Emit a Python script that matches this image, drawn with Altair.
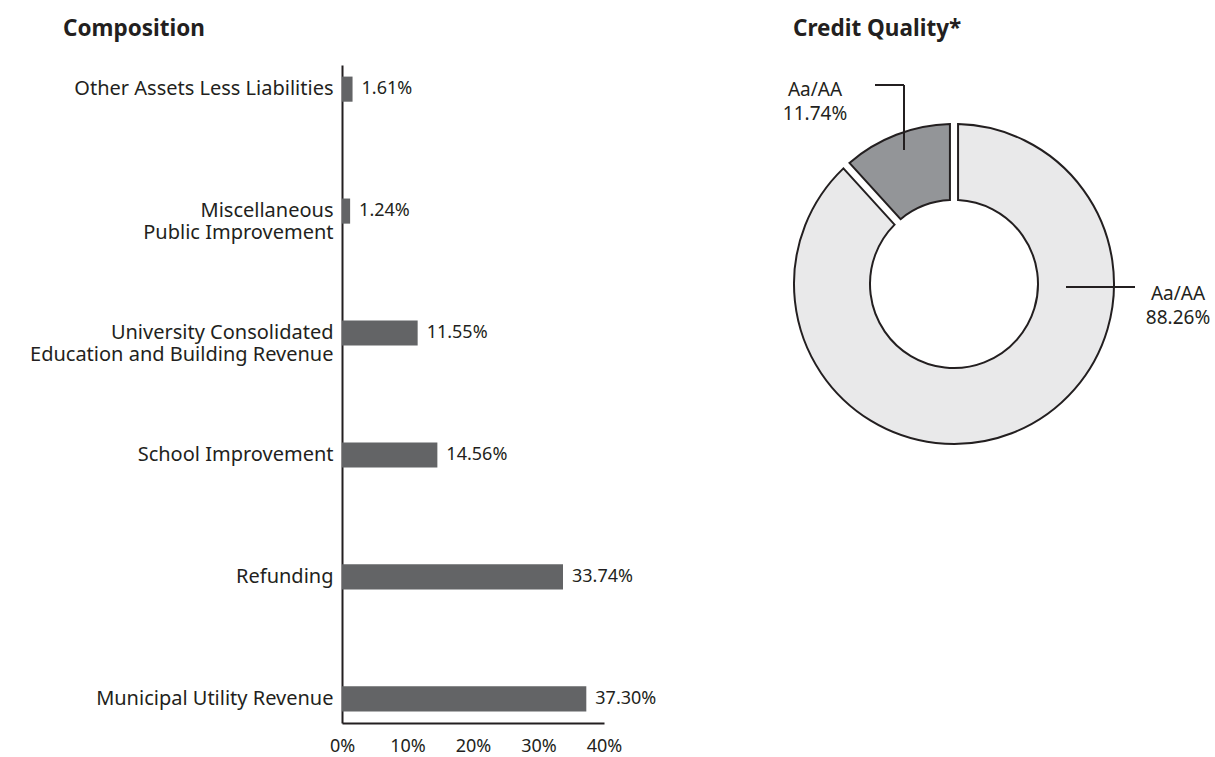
import altair as alt
import pandas as pd

# ---- data ----
categories = [
    "Other Assets Less Liabilities",
    "Miscellaneous|Public Improvement",
    "University Consolidated|Education and Building Revenue",
    "School Improvement",
    "Refunding",
    "Municipal Utility Revenue",
]
values = [1.61, 1.24, 11.55, 14.56, 33.74, 37.30]
x_ticks = [0, 10, 20, 30, 40]

quality_labels = ["Aa/AA", "Aa/AA"]
quality_values = [88.26, 11.74]
quality_colors = ["#e9e9ea", "#939598"]

FONT = "Noto Sans"
INK = "#231f20"

bars_df = pd.DataFrame({"category": categories, "value": values})
donut_df = pd.DataFrame({
    "label": quality_labels,
    "value": quality_values,
    "color": quality_colors,
    "order": list(range(len(quality_values))),
})

base = alt.Chart(bars_df)

bars = base.mark_bar(color="#636466").encode(
    x=alt.X("value:Q",
            scale=alt.Scale(domain=[0, 40], nice=False),
            axis=alt.Axis(values=x_ticks, labelExpr="datum.value + '%'", title=None,
                          grid=False, ticks=False, labelPadding=14, labelFontSize=18,
                          labelFlush=False, labelOverlap=False,
                          labelColor=INK, labelFont=FONT, domainColor=INK, domainWidth=2)),
    y=alt.Y("category:N", sort=categories,
            scale=alt.Scale(paddingInner=0.794, paddingOuter=0.095),
            axis=alt.Axis(title=None, ticks=False, labelPadding=9, labelFontSize=20,
                          labelColor=INK, labelFont=FONT, labelLimit=400,
                          labelExpr="split(datum.label, '|')", labelLineHeight=22,
                          domainColor=INK, domainWidth=2)),
)

bar_text = base.transform_calculate(
    txt="format(datum.value, '.2f') + '%'"
).mark_text(align="left", baseline="middle", dx=9, fontSize=18, font=FONT, color=INK).encode(
    x="value:Q",
    y=alt.Y("category:N", sort=categories),
    text="txt:N",
)

donut = alt.Chart(donut_df).mark_arc(
    innerRadius=84, outerRadius=160, padAngle=0.045, stroke=INK, strokeWidth=2
).encode(
    theta=alt.Theta("value:Q", stack=True),
    order=alt.Order("order:Q"),
    fill=alt.Fill("color:N", scale=None),
    x=alt.value(612),
    y=alt.value(219),
)

one = alt.Data(values=[{}])

def rule(x, x2, y, y2):
    return alt.Chart(one).mark_rule(color=INK, strokeWidth=2).encode(
        x=alt.value(x), x2=alt.value(x2), y=alt.value(y), y2=alt.value(y2))

def label(text, x, y, size=19, weight="normal", align="center", lh=24):
    return alt.Chart(one).mark_text(
        text=text, align=align, baseline="middle", fontSize=size, fontWeight=weight,
        font=FONT, color=INK, lineHeight=lh, lineBreak="\n"
    ).encode(x=alt.value(x), y=alt.value(y))

callouts = [
    rule(724, 793, 222, 222),
    rule(533, 562, 20, 20),
    rule(562, 562, 20, 85),
    label(quality_labels[0] + "\n" + format(quality_values[0], ".2f") + "%", 836, 229),
    label(quality_labels[1] + "\n" + format(quality_values[1], ".2f") + "%", 473, 25),
    label("Composition", -279, -36, size=22.5, weight="bold", align="left"),
    label("Credit Quality*", 451, -36, size=22.5, weight="bold", align="left"),
]

chart = alt.layer(bars, bar_text, donut, *callouts).properties(
    width=262, height=658,
    autosize=alt.AutoSizeParams(type="none"),
    padding={"left": 342, "top": 65, "right": 611, "bottom": 34},
    background="white",
).configure_view(stroke=None)

chart.save("out.html", embed_options={"renderer": "svg", "actions": False})
